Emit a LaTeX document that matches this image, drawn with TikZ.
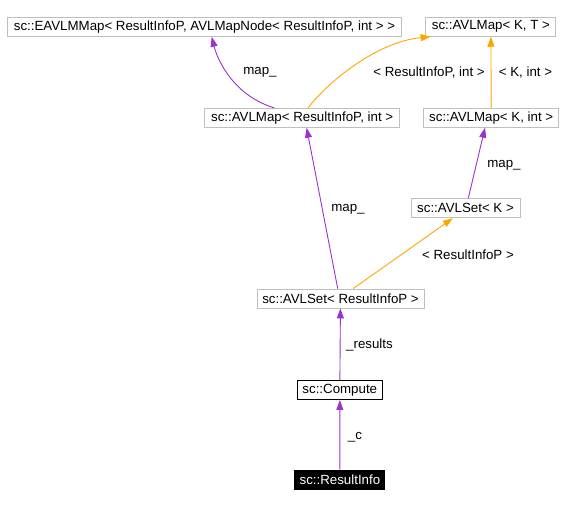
\documentclass[tikz,border=0pt]{standalone}
\usepackage{fontspec}
\setmainfont{Liberation Sans}
\usetikzlibrary{arrows.meta}

\definecolor{usedby}{HTML}{9A32CD}
\definecolor{templ}{HTML}{FFA500}
\definecolor{boxline}{HTML}{BFBFBF}

\begin{document}
\begin{tikzpicture}[x=1pt, y=-1pt]

  \tikzstyle{cls} = [rectangle, draw=boxline, line width=0.9pt, minimum height=19pt, inner sep=1pt, text centered, font=\fontsize{13.3}{15}\selectfont]
  \tikzstyle{doc} = [cls, draw=black]
  \tikzstyle{self} = [cls, draw=black, fill=black, text=white]
  \tikzstyle{lbl} = [inner sep=0pt, font=\fontsize{13.3}{15}\selectfont]

  \tikzstyle{member} = [draw=usedby, line width=0.9pt, -{Triangle[length=10pt, width=7pt]}]
  \tikzstyle{inst} = [draw=templ, line width=0.9pt, -{Triangle[length=10pt, width=7pt]}]

  \useasboundingbox (0,0) rectangle (564,508);

  \node (eavlmmap)   [cls, minimum width=394pt] at (204.5,26.8) {sc::EAVLMMap< ResultInfoP, AVLMapNode< ResultInfoP, int > >};
  \node (mapkt)      [cls, minimum width=130pt] at (490.9,26.8) {sc::AVLMap< K, T >};
  \node (maprip)     [cls, minimum width=195pt] at (302.2,117.8) {sc::AVLMap< ResultInfoP, int >};
  \node (mapk)       [cls, minimum width=135pt] at (491.2,117.8) {sc::AVLMap< K, int >};
  \node (setk)       [cls, minimum width=109pt] at (465.5,208.2) {sc::AVLSet< K >};
  \node (setrip)     [cls, minimum width=167pt] at (340.5,298.5) {sc::AVLSet< ResultInfoP >};
  \node (compute)    [doc, minimum width=85pt] at (339.8,390) {sc::Compute};
  \node (resultinfo) [self, minimum width=90pt] at (339.9,479.5) {sc::ResultInfo};

  \draw [member] ([xshift=-28pt]maprip.north) .. controls (235,96) and (218,62) .. ([xshift=7.2pt]eavlmmap.south)
    node[lbl, at={(260,72.7)}] {map\_};
  \draw [inst] ([xshift=6pt]maprip.north) .. controls (325,85) and (375,42) .. ([xshift=-60.3pt]mapkt.south)
    node[lbl, at={(429,72.7)}] {< ResultInfoP, int >};
  \draw [inst] (mapk) -- (mapkt)
    node[lbl, at={(525.5,72.7)}] {< K, int >};

  \draw [member] ([xshift=2.8pt]setk.north) -- ([xshift=-6.2pt]mapk.south)
    node[lbl, at={(504,165)}] {map\_};
  \draw [member] ([xshift=-2.8pt]setrip.north) -- ([xshift=4.4pt]maprip.south)
    node[lbl, at={(348,209)}] {map\_};
  \draw [inst] ([xshift=12.8pt]setrip.north) -- ([xshift=-12.7pt]setk.south)
    node[lbl, at={(468,254.3)}] {< ResultInfoP >};

  \draw [member] (compute) -- (setrip)
    node[lbl, at={(369.5,345)}] {\_results};
  \draw [member] (resultinfo) -- (compute)
    node[lbl, at={(355,437)}] {\_c};

\end{tikzpicture}
\end{document}
